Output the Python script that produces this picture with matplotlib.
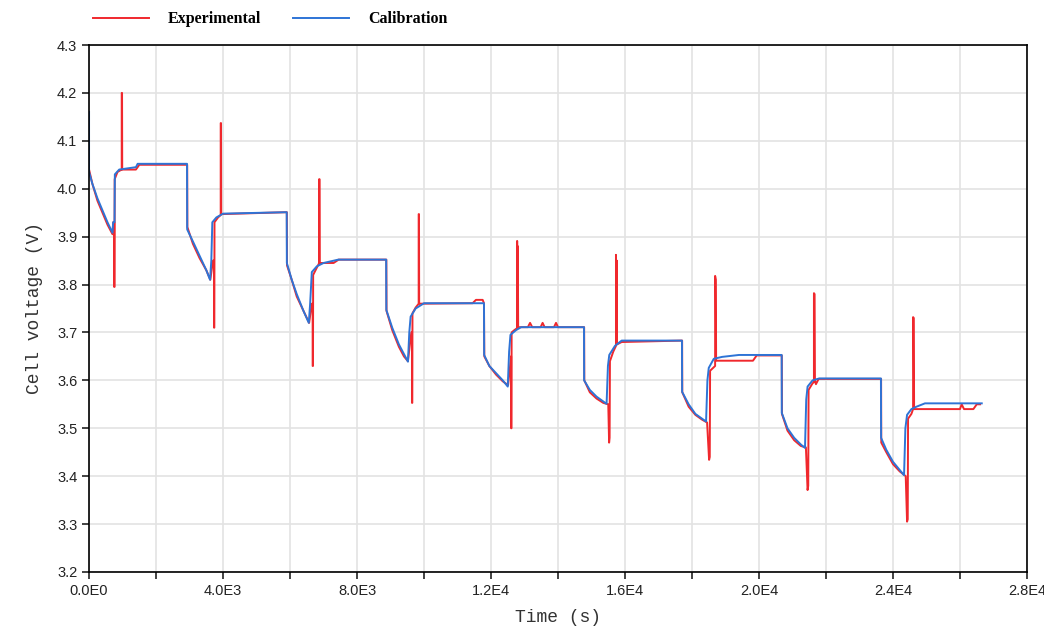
import matplotlib
matplotlib.use("Agg")
import matplotlib.pyplot as plt
from matplotlib.ticker import MultipleLocator, FuncFormatter

# Calibration (model) curve: time in s, cell voltage in V
cal_time = [
    0, 0, 100, 250, 400, 550, 700, 720, 760, 770, 900, 1400, 1450, 2925, 2930,
    3100, 3300, 3500, 3612, 3650, 3680, 3800, 4000, 5900, 5905,
    6050, 6200, 6400, 6560, 6600, 6650, 6800, 7000, 7440, 8870, 8875,
    9050, 9250, 9400, 9520, 9560, 9600, 9750, 10000, 11790, 11795,
    11950, 12150, 12350, 12500, 12540, 12580, 12750, 12900, 14776, 14780,
    14950, 15150, 15350, 15450, 15490, 15530, 15700, 15900, 17700, 17705,
    17900, 18100, 18300, 18420, 18460, 18500, 18650, 18900, 19400, 20677, 20680,
    20850, 21050, 21250, 21373, 21410, 21450, 21600, 21800, 23640, 23645,
    23800, 24000, 24200, 24330, 24370, 24420, 24550, 24700, 24955, 26650,
]
cal_volt = [
    4.16, 4.035, 4.01, 3.98, 3.955, 3.93, 3.908, 3.93, 3.93, 4.03, 4.04, 4.045, 4.052, 4.052, 3.915,
    3.89, 3.86, 3.83, 3.81, 3.85, 3.93, 3.94, 3.948, 3.951, 3.845,
    3.81, 3.78, 3.745, 3.72, 3.76, 3.826, 3.838, 3.845, 3.852, 3.852, 3.747,
    3.71, 3.675, 3.655, 3.639, 3.70, 3.733, 3.75, 3.761, 3.761, 3.653,
    3.63, 3.615, 3.60, 3.587, 3.66, 3.695, 3.705, 3.711, 3.711, 3.60,
    3.58, 3.566, 3.556, 3.551, 3.63, 3.653, 3.672, 3.683, 3.683, 3.576,
    3.55, 3.53, 3.52, 3.514, 3.60, 3.626, 3.645, 3.649, 3.653, 3.653, 3.532,
    3.50, 3.48, 3.466, 3.459, 3.56, 3.587, 3.60, 3.604, 3.604, 3.48,
    3.455, 3.43, 3.413, 3.402, 3.50, 3.528, 3.54, 3.545, 3.552, 3.552,
]

# Experimental measurement
exp_time = [
    0, 100, 250, 400, 550, 700, 720, 750, 750, 760, 765, 850, 975, 975, 985, 990, 1400, 1500, 2930, 2935,
    3100, 3300, 3500, 3620, 3700, 3730, 3730, 3740, 3745, 3850, 3930, 3930, 3940, 3945, 5905, 5910,
    6050, 6200, 6400, 6570, 6650, 6675, 6675, 6685, 6690, 6800, 6870, 6870, 6880, 6885, 7300, 7450, 8875, 8880,
    9050, 9250, 9400, 9520, 9620, 9640, 9640, 9650, 9655, 9750, 9840, 9840, 9850, 9855,
    11450, 11550, 11750, 11790, 11800,
    11950, 12150, 12350, 12510, 12600, 12600, 12610, 12615, 12700, 12780, 12780, 12790, 12800, 12810,
    13100, 13165, 13230, 13480, 13540, 13600, 13880, 13940, 14000, 14780, 14785,
    14950, 15150, 15350, 15500, 15525, 15540, 15550, 15650, 15730, 15730, 15745, 15755, 15760, 15900,
    17705, 17710,
    17900, 18100, 18300, 18450, 18510, 18530, 18540, 18690, 18690, 18710, 18720, 19820, 19930, 20680, 20685,
    20850, 21050, 21250, 21400, 21450, 21470, 21480, 21600, 21640, 21640, 21660, 21670, 21700, 21780,
    23645, 23650,
    23800, 24000, 24200, 24380, 24420, 24440, 24450, 24550, 24600, 24600, 24620, 24630,
    26000, 26050, 26120, 26400, 26500, 26600,
]
exp_volt = [
    4.04, 4.01, 3.975, 3.95, 3.925, 3.905, 3.93, 3.93, 3.795, 3.795, 4.02, 4.035, 4.04, 4.2, 4.2, 4.04, 4.04, 4.05, 4.05, 3.92,
    3.885, 3.855, 3.83, 3.81, 3.85, 3.85, 3.71, 3.71, 3.93, 3.94, 3.945, 4.137, 4.137, 3.947, 3.951, 3.84,
    3.81, 3.775, 3.745, 3.72, 3.76, 3.76, 3.63, 3.63, 3.82, 3.835, 3.845, 4.02, 4.02, 3.845, 3.845, 3.852, 3.852, 3.745,
    3.705, 3.67, 3.65, 3.64, 3.70, 3.70, 3.553, 3.553, 3.74, 3.752, 3.76, 3.947, 3.947, 3.76,
    3.761, 3.768, 3.768, 3.761, 3.65,
    3.63, 3.612, 3.598, 3.59, 3.65, 3.50, 3.50, 3.70, 3.705, 3.709, 3.891, 3.71, 3.88, 3.711,
    3.711, 3.72, 3.711, 3.711, 3.72, 3.711, 3.711, 3.72, 3.711, 3.711, 3.60,
    3.575, 3.562, 3.553, 3.55, 3.47, 3.48, 3.64, 3.66, 3.672, 3.862, 3.675, 3.85, 3.675, 3.68,
    3.683, 3.575,
    3.545, 3.528, 3.518, 3.512, 3.434, 3.44, 3.62, 3.63, 3.818, 3.81, 3.641, 3.641, 3.652, 3.652, 3.53,
    3.495, 3.475, 3.463, 3.46, 3.371, 3.38, 3.58, 3.594, 3.596, 3.782, 3.78, 3.60, 3.592, 3.603,
    3.603, 3.47,
    3.45, 3.425, 3.41, 3.40, 3.305, 3.31, 3.52, 3.53, 3.54, 3.732, 3.73, 3.54,
    3.54, 3.55, 3.54, 3.54, 3.55, 3.55,
]

RED = "#f0282d"
BLUE = "#2e74d6"

fig = plt.figure(figsize=(10.44, 6.33), dpi=100)
ax = fig.add_axes([0.0853, 0.0964, 0.8984, 0.8325])

ax.plot(exp_time, exp_volt, color=RED, lw=1.4, label="Experimental")
ax.plot(cal_time, cal_volt, color=BLUE, lw=1.4, label="Calibration")

ax.set_xlim(0, 28000)
ax.set_ylim(3.2, 4.3)
ax.xaxis.set_major_locator(MultipleLocator(4000))
ax.xaxis.set_minor_locator(MultipleLocator(2000))
ax.yaxis.set_major_locator(MultipleLocator(0.1))


def sci_fmt(v, pos):
    if v == 0:
        return "0.0E0"
    mant, exp = ("%.1E" % v).split("E")
    return "%sE%d" % (mant, int(exp))


ax.xaxis.set_major_formatter(FuncFormatter(sci_fmt))
ax.yaxis.set_major_formatter(FuncFormatter(lambda v, p: "%.1f" % v))

ax.grid(True, which="both", color="#e3e3e3", lw=1.2)
ax.set_axisbelow(True)
for sp in ax.spines.values():
    sp.set_color("black")
    sp.set_linewidth(1.2)

ax.tick_params(which="both", direction="out", length=5, width=1.2, color="#222222",
               labelsize=10.5, labelcolor="#222222")
for lbl in ax.get_xticklabels() + ax.get_yticklabels():
    lbl.set_family("Liberation Sans")

ax.set_xlabel("Time (s)", family="Liberation Mono", fontsize=13, color="#333333", labelpad=8)
ax.set_ylabel("Cell voltage (V)", family="Liberation Mono", fontsize=13, color="#333333", labelpad=10)

fig.legend(loc="upper left", bbox_to_anchor=(0.075, 1.005), ncol=2, frameon=False,
           prop={"family": "Liberation Serif", "weight": "bold", "size": 11.5},
           handlelength=3.5, columnspacing=2.0, handletextpad=1.2)

plt.savefig("out.png", dpi=100)
